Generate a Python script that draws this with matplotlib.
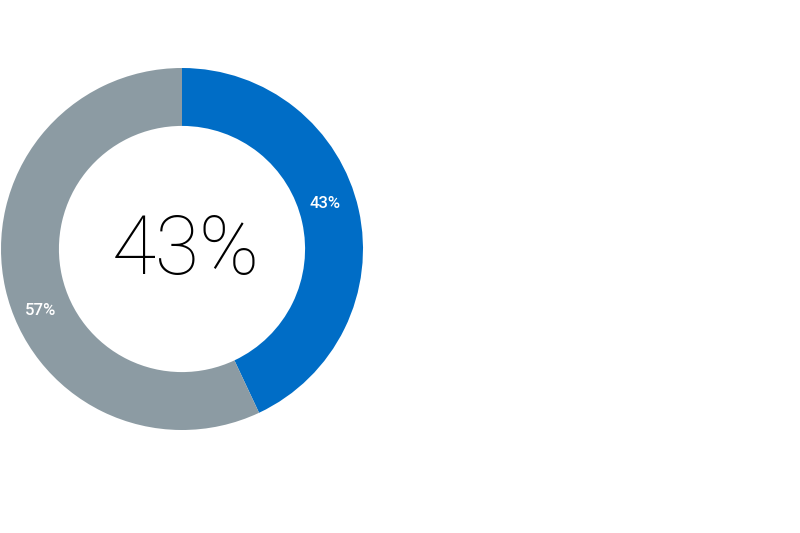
import numpy as np
import matplotlib.pyplot as plt

# 数据
labels = ["Yes", "No"]
values = [43, 57]
colors = ["#006dc6", "#8c9ba3"]
center_text = "43%"

fig = plt.figure(figsize=(8, 5.33), dpi=100)
# 饼图放在左侧
ax = fig.add_axes([1 / 800, 103 / 533, 362 / 800, 362 / 533])

wedges, _ = ax.pie(
    values,
    colors=colors,
    startangle=90,
    counterclock=False,
    radius=1.0,
    wedgeprops=dict(width=0.32, edgecolor="none"),
)

# 百分比标签，放在扇区略偏前的位置
for w, v in zip(wedges, values):
    ang = np.deg2rad(w.theta2 - 0.456 * (w.theta2 - w.theta1))
    ax.text(0.84 * np.cos(ang), 0.84 * np.sin(ang) - 0.03, f"{v}%",
            ha="center", va="center", color="white", fontsize=12,
            fontweight="medium", family="Roboto")

ax.text(0.02, 0.03, center_text, ha="center", va="center_baseline",
        fontsize=58, fontweight="light", family="Roboto", color="black")

ax.set_xlim(-1, 1)
ax.set_ylim(-1, 1)
ax.set_aspect("equal")
ax.axis("off")

plt.savefig("out.png", dpi=100)
